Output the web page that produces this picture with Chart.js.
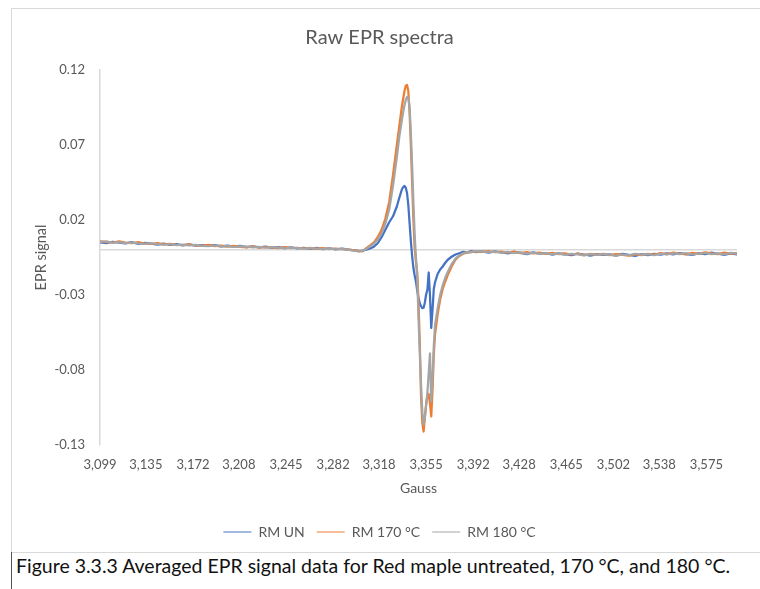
<!DOCTYPE html>
<html>
<head>
<meta charset="utf-8">
<script src="https://cdn.jsdelivr.net/npm/chart.js@4"></script>
<style>
  html, body { margin: 0; padding: 0; background: #fff; overflow: hidden; width: 760px; height: 589px; }
  #box { position: absolute; left: 11px; top: 8px; width: 758px; height: 543px; border: 1px solid #d9d9d9; }
  #chart { position: absolute; left: 0; top: 0; }
  #caption {
    position: absolute; left: 11px; top: 552px; height: 37px; width: 749px;
    border-left: 1px solid #555; padding-left: 4px;
    font-family: Lato, sans-serif; font-size: 19.5px; line-height: 28px; color: #111; white-space: nowrap;
  }
</style>
</head>
<body>
<div id="box"><canvas id="chart" width="756" height="543"></canvas></div>
<div id="caption">Figure 3.3.3 Averaged EPR signal data for Red maple untreated, 170 °C, and 180 °C.</div>
<script>
// magnetic field (Gauss) for every sample
const gauss = [
  3099, 3104, 3109, 3114, 3119, 3124, 3129, 3134, 3139, 3144,
  3149, 3154, 3159, 3164, 3169, 3174, 3179, 3184, 3189, 3194,
  3199, 3204, 3209, 3214, 3219, 3224, 3229, 3234, 3239, 3244,
  3249, 3254, 3259, 3264, 3269, 3274, 3279, 3284, 3289, 3294,
  3299,
  3302, 3305, 3308, 3311, 3314, 3317, 3320, 3323, 3326, 3329,
  3332, 3334, 3336, 3337, 3338, 3339, 3340, 3341, 3342, 3343,
  3344, 3345, 3346, 3347, 3348, 3349, 3350, 3351, 3352, 3353,
  3354, 3355, 3356, 3357, 3358, 3359, 3360, 3361, 3362, 3364,
  3366, 3368, 3370, 3372, 3375, 3378, 3381, 3384, 3387, 3390,
  3394,
  3399, 3404, 3409, 3414, 3419, 3424, 3429, 3434, 3439, 3444,
  3449, 3454, 3459, 3464, 3469, 3474, 3479, 3484, 3489, 3494,
  3499, 3504, 3509, 3514, 3519, 3524, 3529, 3534, 3539, 3544,
  3549, 3554, 3559, 3564, 3569, 3574, 3579, 3584, 3589, 3594,
  3599
];

const rmUN = [
  0.0051, 0.0046, 0.0055, 0.0049, 0.0044, 0.0052, 0.0040, 0.0047, 0.0043, 0.0036,
  0.0042, 0.0034, 0.0039, 0.0031, 0.0037, 0.0029, 0.0033, 0.0027, 0.0032, 0.0024,
  0.0029, 0.0022, 0.0027, 0.0019, 0.0025, 0.0018, 0.0022, 0.0014, 0.0020, 0.0013,
  0.0018, 0.0010, 0.0015, 0.0008, 0.0014, 0.0006, 0.0011, 0.0004, 0.0009, 0.0002,
  -0.0003,
  -0.0008, -0.0004, 0.0002, 0.0010, 0.0022, 0.0045, 0.0085, 0.0135, 0.0185, 0.0225,
  0.0290, 0.0350, 0.0405, 0.0420, 0.0427, 0.0415, 0.0380, 0.0300, 0.0180, 0.0060,
  -0.0040, -0.0120, -0.0170, -0.0210, -0.0270, -0.0320, -0.0355, -0.0375, -0.0388, -0.0385,
  -0.0350, -0.0295, -0.0265, -0.0150, -0.0300, -0.0520, -0.0400, -0.0260, -0.0215, -0.0160,
  -0.0130, -0.0110, -0.0085, -0.0065, -0.0045, -0.0030, -0.0022, -0.0012, -0.0016, -0.0008,
  -0.0014,
  -0.0010, -0.0018, -0.0009, -0.0015, -0.0022, -0.0012, -0.0019, -0.0027, -0.0016, -0.0024,
  -0.0020, -0.0031, -0.0022, -0.0028, -0.0035, -0.0024, -0.0030, -0.0038, -0.0027, -0.0033,
  -0.0029, -0.0036, -0.0025, -0.0032, -0.0040, -0.0028, -0.0034, -0.0026, -0.0031, -0.0022,
  -0.0029, -0.0020, -0.0027, -0.0033, -0.0021, -0.0028, -0.0018, -0.0025, -0.0032, -0.0022,
  -0.0029
];

const rm170 = [
  0.0058, 0.0052, 0.0050, 0.0057, 0.0049, 0.0045, 0.0053, 0.0043, 0.0040, 0.0046,
  0.0037, 0.0041, 0.0035, 0.0032, 0.0038, 0.0030, 0.0027, 0.0034, 0.0026, 0.0029,
  0.0023, 0.0028, 0.0021, 0.0018, 0.0024, 0.0016, 0.0020, 0.0017, 0.0013, 0.0019,
  0.0012, 0.0015, 0.0010, 0.0014, 0.0008, 0.0012, 0.0006, 0.0010, 0.0005, 0.0003,
  -0.0002,
  -0.0006, -0.0009, 0.0012, 0.0030, 0.0050, 0.0085, 0.0135, 0.0210, 0.0320, 0.0500,
  0.0700, 0.0830, 0.0960, 0.1010, 0.1060, 0.1095, 0.1100, 0.1060, 0.0920, 0.0700,
  0.0450, 0.0200, 0.0010, -0.0080, -0.0150, -0.0350, -0.0620, -0.0980, -0.1150, -0.1210,
  -0.1120, -0.1030, -0.0970, -0.0960, -0.1020, -0.1110, -0.0940, -0.0700, -0.0560, -0.0430,
  -0.0330, -0.0260, -0.0210, -0.0165, -0.0110, -0.0065, -0.0040, -0.0025, -0.0018, -0.0012,
  -0.0010,
  -0.0012, -0.0007, -0.0015, -0.0010, -0.0018, -0.0011, -0.0021, -0.0014, -0.0023, -0.0017,
  -0.0026, -0.0019, -0.0028, -0.0022, -0.0030, -0.0024, -0.0034, -0.0026, -0.0031, -0.0025,
  -0.0035, -0.0027, -0.0032, -0.0038, -0.0029, -0.0034, -0.0025, -0.0030, -0.0021, -0.0027,
  -0.0018, -0.0024, -0.0029, -0.0019, -0.0026, -0.0016, -0.0023, -0.0028, -0.0017, -0.0024,
  -0.0020
];

const rm180 = [
  0.0054, 0.0057, 0.0048, 0.0052, 0.0046, 0.0050, 0.0044, 0.0041, 0.0045, 0.0039,
  0.0035, 0.0040, 0.0032, 0.0036, 0.0030, 0.0034, 0.0028, 0.0025, 0.0030, 0.0023,
  0.0026, 0.0020, 0.0024, 0.0022, 0.0017, 0.0021, 0.0015, 0.0019, 0.0016, 0.0011,
  0.0015, 0.0012, 0.0009, 0.0013, 0.0010, 0.0006, 0.0009, 0.0005, 0.0007, 0.0001,
  -0.0005,
  -0.0010, -0.0006, 0.0008, 0.0024, 0.0042, 0.0070, 0.0110, 0.0175, 0.0270, 0.0430,
  0.0620, 0.0760, 0.0870, 0.0920, 0.0965, 0.1000, 0.1020, 0.1015, 0.0950, 0.0780,
  0.0560, 0.0320, 0.0100, -0.0050, -0.0180, -0.0450, -0.0680, -0.0900, -0.1080, -0.1165,
  -0.1110, -0.1030, -0.0950, -0.0820, -0.0690, -0.1010, -0.0860, -0.0640, -0.0500, -0.0390,
  -0.0300, -0.0235, -0.0185, -0.0145, -0.0095, -0.0058, -0.0036, -0.0022, -0.0014, -0.0016,
  -0.0008,
  -0.0009, -0.0014, -0.0011, -0.0019, -0.0013, -0.0020, -0.0016, -0.0024, -0.0018, -0.0026,
  -0.0021, -0.0027, -0.0024, -0.0032, -0.0025, -0.0029, -0.0036, -0.0028, -0.0033, -0.0027,
  -0.0031, -0.0039, -0.0030, -0.0035, -0.0026, -0.0031, -0.0028, -0.0035, -0.0024, -0.0030,
  -0.0023, -0.0028, -0.0021, -0.0030, -0.0024, -0.0020, -0.0027, -0.0022, -0.0029, -0.0019,
  -0.0025
];

const xTicks = [3099, 3135, 3172, 3208, 3245, 3282, 3318, 3355, 3392, 3428, 3465, 3502, 3538, 3575];
const yTicks = [-0.13, -0.08, -0.03, 0, 0.02, 0.07, 0.12];

const FONT = 'Lato, "Open Sans", sans-serif';
const GREY_TEXT = '#595959';

function series(values) {
    return gauss.map((g, i) => ({ x: g, y: values[i] }));
}

new Chart(document.getElementById('chart'), {
    type: 'line',
    data: {
        datasets: [
            { label: 'RM UN', data: series(rmUN), borderColor: '#4472C4', order: 3 },
            { label: 'RM 170 °C', data: series(rm170), borderColor: '#ED7D31', order: 2 },
            { label: 'RM 180 °C', data: series(rm180), borderColor: '#A5A5A5', order: 1 }
        ]
    },
    options: {
        responsive: false,
        animation: false,
        elements: {
            line: { borderWidth: 2.25, tension: 0, borderJoinStyle: 'round', borderCapStyle: 'round' },
            point: { radius: 0, pointStyle: 'line' }
        },
        layout: { padding: { left: 10, right: 31, top: 0, bottom: 3 } },
        plugins: {
            title: {
                display: true,
                text: 'Raw EPR spectra',
                color: GREY_TEXT,
                font: { family: FONT, size: 20, weight: 'normal' },
                padding: { top: 17, bottom: 20 }
            },
            legend: {
                position: 'bottom',
                labels: {
                    usePointStyle: true,
                    pointStyle: 'line',
                    pointStyleWidth: 28,
                    boxHeight: 14,
                    padding: 12,
                    color: GREY_TEXT,
                    font: { family: FONT, size: 14 },
                    sort: (a, b) => a.datasetIndex - b.datasetIndex
                }
            },
            tooltip: { enabled: false }
        },
        scales: {
            x: {
                type: 'linear',
                min: 3099,
                max: 3599,
                afterBuildTicks: (s) => { s.ticks = xTicks.map(v => ({ value: v })); },
                afterFit: (s) => { s.height = 68; },
                grid: { display: false, drawTicks: false },
                border: { display: false },
                ticks: {
                    autoSkip: false,
                    maxRotation: 0,
                    padding: 12,
                    color: GREY_TEXT,
                    font: { family: FONT, size: 13 },
                    callback: (v) => v.toLocaleString('en-US')
                },
                title: {
                    display: true,
                    text: 'Gauss',
                    color: GREY_TEXT,
                    font: { family: FONT, size: 14 },
                    padding: { top: 4, bottom: 16 }
                }
            },
            y: {
                min: -0.13,
                max: 0.12,
                afterBuildTicks: (s) => { s.ticks = yTicks.map(v => ({ value: v })); },
                afterFit: (s) => { s.width = 78; },
                grid: {
                    drawTicks: false,
                    lineWidth: 1.5,
                    color: (c) => (c.tick && c.tick.value === 0) ? '#d9d9d9' : 'rgba(0,0,0,0)'
                },
                border: { display: true, color: '#d9d9d9', width: 1.5 },
                ticks: {
                    padding: 15,
                    color: GREY_TEXT,
                    font: { family: FONT, size: 13 },
                    callback: (v) => v === 0 ? '' : v.toFixed(2)
                },
                title: {
                    display: true,
                    text: 'EPR signal',
                    color: GREY_TEXT,
                    font: { family: FONT, size: 14.5 },
                    padding: { top: 11, bottom: 0 }
                }
            }
        }
    }
});
</script>
</body>
</html>
